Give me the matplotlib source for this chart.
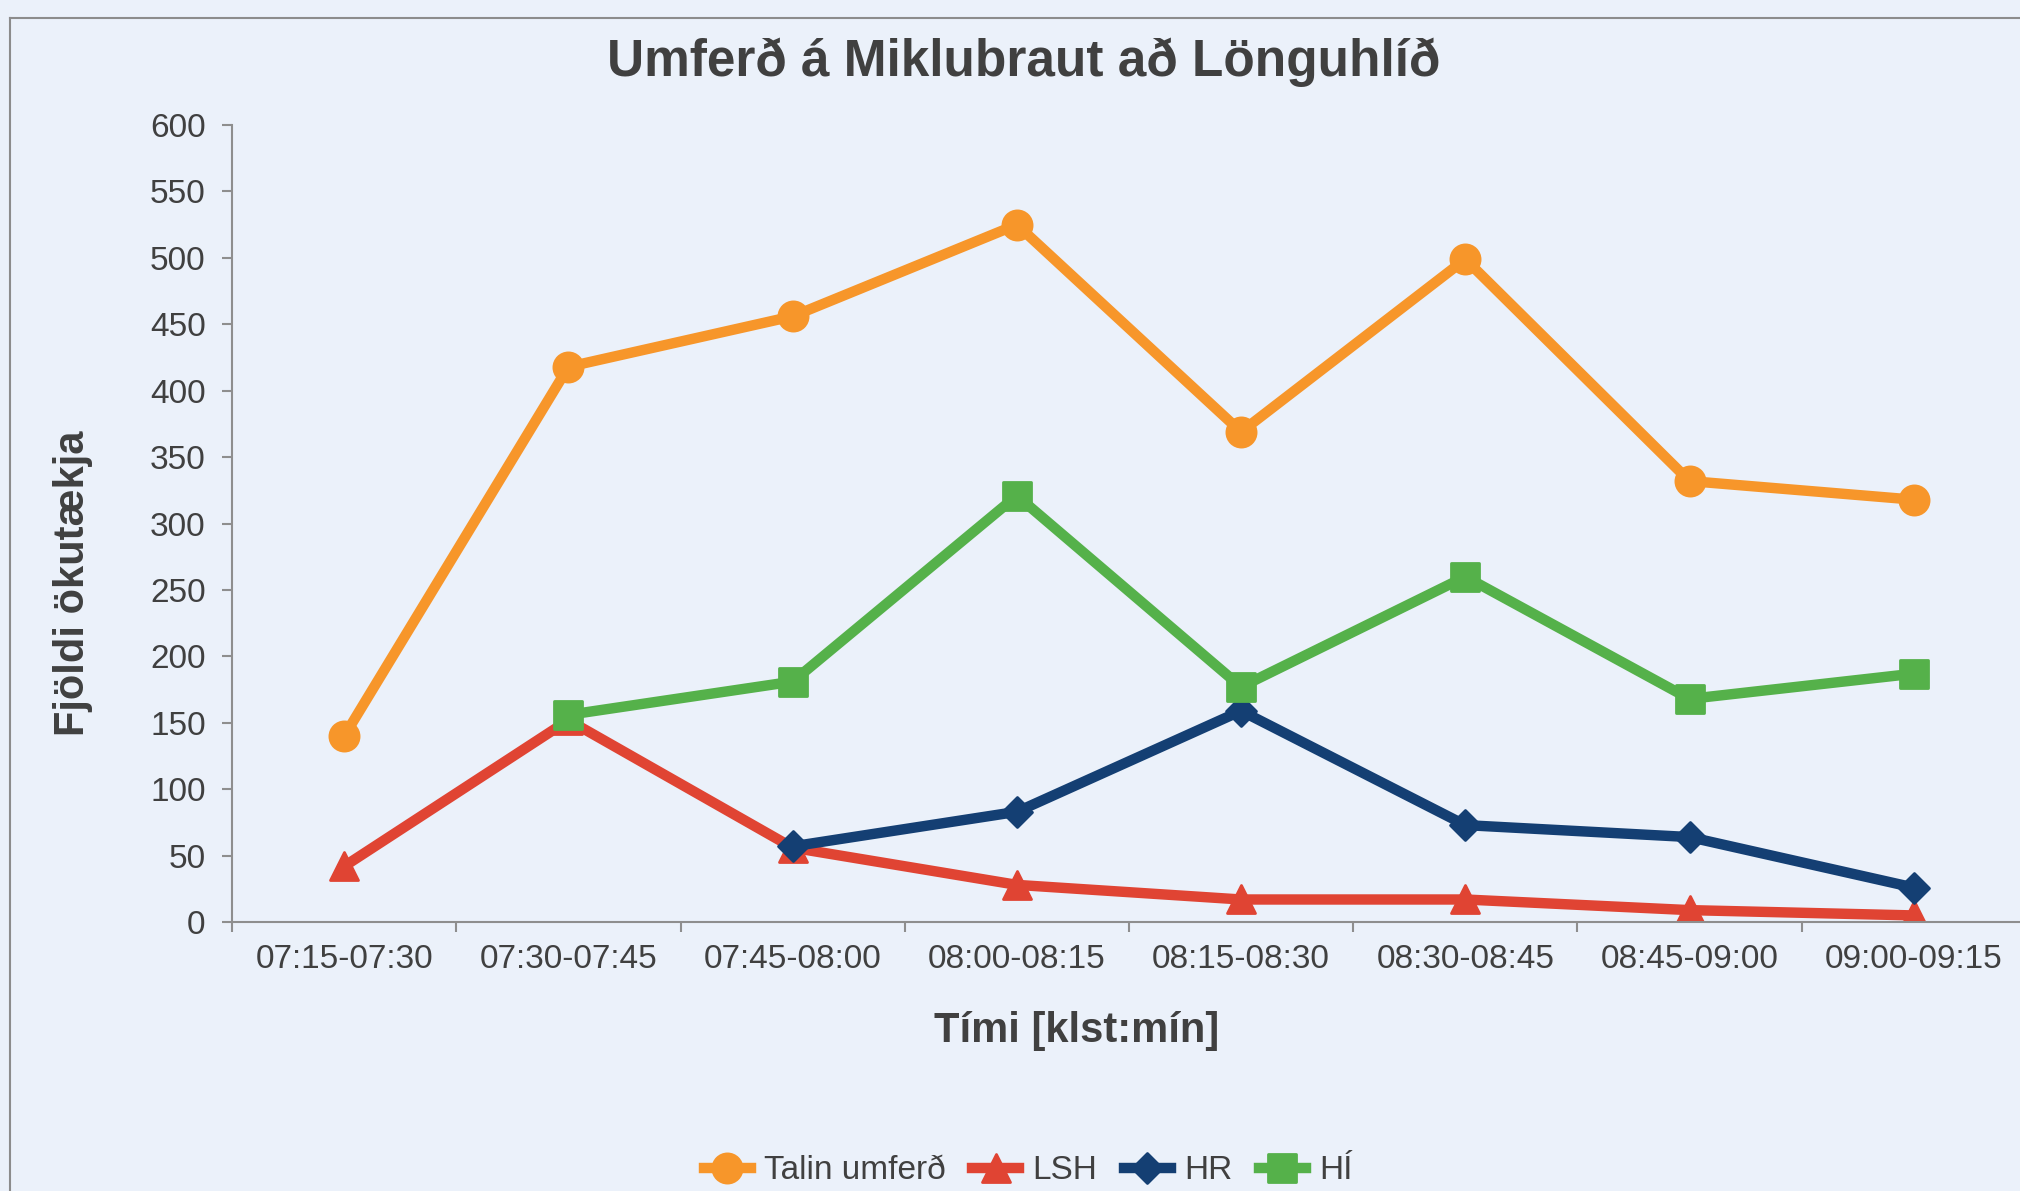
import numpy as np
import matplotlib
matplotlib.use('Agg')
import matplotlib.pyplot as plt
from matplotlib.lines import Line2D
from matplotlib.markers import MarkerStyle

# Data
time_slots = ['07:15-07:30', '07:30-07:45', '07:45-08:00', '08:00-08:15',
              '08:15-08:30', '08:30-08:45', '08:45-09:00', '09:00-09:15']
talin_umferd = [140, 418, 456, 525, 369, 499, 332, 318]
lsh = [42, 152, 56, 28, 17, 17, 9, 5]
hr = [np.nan, np.nan, 57, 83, 159, 73, 64, 26]
hi = [np.nan, 156, 181, 321, 177, 260, 168, 187]
y_ticks = [0, 50, 100, 150, 200, 250, 300, 350, 400, 450, 500, 550, 600]

BG = '#EBF1FA'
TXT = '#404040'
AXC = '#8E8E8E'

plt.rcParams['font.family'] = ['Liberation Sans', 'DejaVu Sans']

fig = plt.figure(figsize=(20.2, 11.91), dpi=100, facecolor=BG)
ax = fig.add_axes([0.1149, 0.2258, 0.888, 0.6692])
ax.set_facecolor('none')

x = np.arange(len(time_slots))

series = [
    ('Talin umferð', talin_umferd, '#F7962A', 'o', 21),
    ('LSH', lsh, '#E04433', '^', 20),
    ('HR', hr, '#143F73', 'D', 15),
    ('HÍ', hi, '#55B14A', 's', 20),
]

for name, vals, col, mk, ms in series:
    ax.plot(x, vals, color=col, linewidth=7.5, solid_joinstyle='round',
            marker=MarkerStyle(mk, joinstyle='round'), markersize=ms,
            markeredgewidth=2, markeredgecolor=col, label=name)

ax.set_xlim(-0.5, len(time_slots) - 0.5)
ax.set_ylim(0, 600)
ax.set_yticks(y_ticks)
ax.set_yticklabels([str(v) for v in y_ticks])
ax.set_xticks(x)
ax.set_xticklabels(time_slots)
ax.set_xticks(np.arange(-0.5, len(time_slots), 1.0), minor=True)

ax.tick_params(axis='x', which='major', length=0, pad=16, labelsize=24, labelcolor=TXT)
ax.tick_params(axis='x', which='minor', length=7, width=1.5, color=AXC, direction='out')
ax.tick_params(axis='y', which='major', length=7, width=1.5, color=AXC, pad=12,
               labelsize=24, labelcolor=TXT)

for s in ['top', 'right']:
    ax.spines[s].set_visible(False)
for s in ['left', 'bottom']:
    ax.spines[s].set_color(AXC)
    ax.spines[s].set_linewidth(1.5)

fig.text(0.507, 0.948, 'Umferð á Miklubraut að Lönguhlíð', ha='center', va='center',
         fontsize=37, fontweight='bold', color=TXT)
fig.text(0.036, 0.51, 'Fjöldi ökutækja', ha='center', va='center', rotation=90,
         fontsize=30, fontweight='bold', color=TXT)
fig.text(0.533, 0.134, 'Tími [klst:mín]', ha='center', va='center',
         fontsize=30, fontweight='bold', color=TXT)

# outer chart frame
fig.add_artist(Line2D([0.005, 0.005], [0.0, 0.985], color='#8C8C8C', linewidth=1.5,
                      transform=fig.transFigure))
fig.add_artist(Line2D([0.005, 1.0], [0.985, 0.985], color='#8C8C8C', linewidth=1.5,
                      transform=fig.transFigure))

leg = fig.legend(loc='center', bbox_to_anchor=(0.509, 0.017), ncol=4, frameon=False,
                 fontsize=24, handlelength=1.4, handletextpad=0.4, columnspacing=0.8,
                 labelcolor=TXT)

fig.savefig('out.png', dpi=100, facecolor=BG)
